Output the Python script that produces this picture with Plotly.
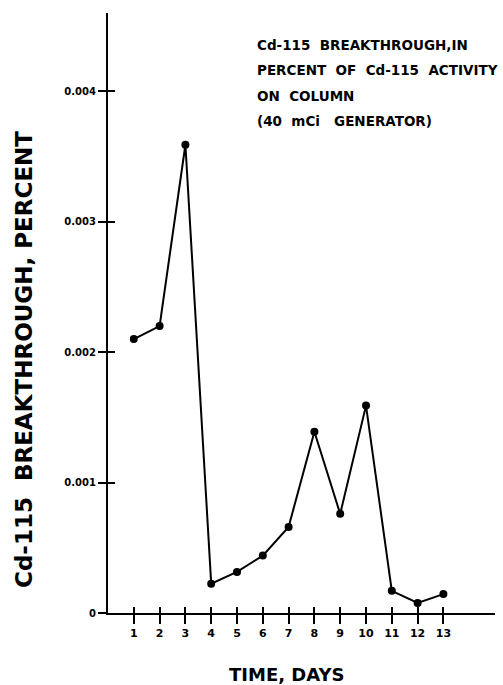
import plotly.graph_objects as go

days = [1, 2, 3, 4, 5, 6, 7, 8, 9, 10, 11, 12, 13]
breakthrough = [0.0021, 0.0022, 0.00359, 0.000225, 0.000315, 0.00044, 0.00066,
                0.00139, 0.00076, 0.00159, 0.00017, 0.000077, 0.000145]

x_ticks = days
y_ticks = [0, 0.001, 0.002, 0.003, 0.004]
y_tick_labels = ["0", "0.001", "0.002", "0.003", "0.004"]

note_lines = ["Cd-115  BREAKTHROUGH,IN",
              "PERCENT  OF  Cd-115  ACTIVITY",
              "ON  COLUMN",
              "(40  mCi   GENERATOR)"]

FONT = "DejaVu Sans"

W, H = 503, 685
L, R, T, B = 108, 8, 13, 72
PW, PH = W - L - R, H - T - B

fig = go.Figure()
fig.add_trace(go.Scatter(
    x=days, y=breakthrough, mode="lines+markers",
    line=dict(color="black", width=2),
    marker=dict(color="black", size=8),
    showlegend=False, cliponaxis=False,
))

fig.update_layout(
    width=W, height=H,
    margin=dict(l=L, r=R, t=T, b=B),
    paper_bgcolor="white", plot_bgcolor="white",
    font=dict(family=FONT, color="black", weight="bold"),
    xaxis=dict(
        range=[0, 15], showgrid=False, zeroline=False,
        showline=True, linecolor="black", linewidth=2,
        tickmode="array", tickvals=x_ticks, ticktext=[str(d) for d in x_ticks],
        ticks="outside", ticklen=9, tickwidth=2, tickcolor="black",
        minor=dict(tickmode="array", tickvals=x_ticks, ticks="inside",
                   ticklen=6, tickwidth=2, tickcolor="black", showgrid=False),
        tickfont=dict(family=FONT, size=11, weight="bold"),
    ),
    yaxis=dict(
        range=[0, 0.0046], showgrid=False, zeroline=False,
        showline=True, linecolor="black", linewidth=2,
        tickmode="array", tickvals=y_ticks, ticktext=y_tick_labels,
        ticks="outside", ticklen=8, tickwidth=2, tickcolor="black",
        minor=dict(tickmode="array", tickvals=y_ticks[1:], ticks="inside",
                   ticklen=7, tickwidth=2, tickcolor="black", showgrid=False),
        tickfont=dict(family=FONT, size=10, weight="bold"),
    ),
)

def px_x(sx):
    return (sx - L) / PW

def px_y(sy):
    return (H - B - sy) / PH

annotations = [
    dict(text="Cd-115  BREAKTHROUGH, PERCENT", textangle=-90,
         xref="paper", yref="paper", x=px_x(24), y=px_y(360),
         xanchor="center", yanchor="middle", showarrow=False,
         font=dict(family=FONT, size=23, weight="bold")),
    dict(text="TIME, DAYS", xref="paper", yref="paper", x=px_x(286), y=px_y(674),
         xanchor="center", yanchor="middle", showarrow=False,
         font=dict(family=FONT, size=18, weight="bold")),
]
line_y_px = [45, 70, 96, 121]
for txt, ypx in zip(note_lines, line_y_px):
    annotations.append(dict(
        text=txt, xref="paper", yref="paper",
        x=px_x(255), y=px_y(ypx),
        xanchor="left", yanchor="middle", showarrow=False,
        font=dict(family=FONT, size=13.5, weight="bold")))
fig.update_layout(annotations=annotations)

fig.write_html(
    "out.html",
    config={"displayModeBar": False},
    post_script="document.body.style.margin='0';document.body.style.overflow='hidden';",
)
